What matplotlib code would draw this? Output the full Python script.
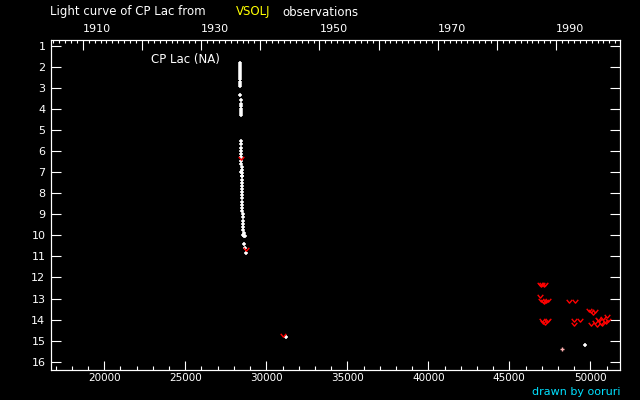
import matplotlib
matplotlib.use("Agg")
from matplotlib import pyplot as plt
from matplotlib.path import Path
from matplotlib.ticker import MultipleLocator, FixedLocator, FixedFormatter

# JD - 2400000 and visual magnitudes
main_jd = [28390, 28391, 28392, 28393, 28394, 28395, 28396, 28397, 28398, 28399,
           28400, 28401, 28405, 28408, 28410, 28412, 28414, 28416, 28418, 28420,
           28440, 28445, 28455, 28458, 28460, 28462, 28465, 28468, 28470, 28475,
           28478, 28480, 28485, 28488, 28490, 28495, 28500, 28505, 28510, 28515,
           28520, 28525, 28530, 28540, 28550, 28560, 28570, 28580, 28590, 28605,
           28620, 28640, 28700, 28760, 28440, 28520, 28560, 28660, 31198, 49692]
main_mag = [1.8, 1.9, 2.0, 2.1, 2.2, 2.3, 2.4, 2.5, 2.6, 2.7,
            2.8, 2.9, 3.35, 3.6, 3.75, 3.85, 4.0, 4.1, 4.2, 4.3,
            5.5, 5.65, 5.85, 6.0, 6.15, 6.3, 6.45, 6.6, 6.75, 6.9,
            7.05, 7.2, 7.35, 7.5, 7.65, 7.8, 7.95, 8.1, 8.25, 8.4,
            8.55, 8.7, 8.85, 9.0, 9.15, 9.3, 9.45, 9.6, 9.75, 9.9,
            10.05, 10.4, 10.6, 10.85, 7.0, 7.2, 10.0, 10.05, 14.84, 15.22]

# fainter-than observations
faint_jd = [28450, 28720, 31012,
            46880, 46960, 47040, 47120, 47200, 46895,
            46960, 47060, 47160, 47260, 47370, 48667, 49075,
            49920, 50050, 50180, 50290,
            46990, 47100, 47200, 47300, 47370, 48994, 49365, 48994, 50043,
            50300, 50420, 50540, 50660, 50780, 50900, 51000, 51090, 50480, 50720, 50950]
faint_mag = [6.35, 10.65, 14.72,
             12.3, 12.35, 12.3, 12.35, 12.3, 12.9,
             13.05, 13.1, 13.15, 13.1, 13.05, 13.13, 13.13,
             13.55, 13.6, 13.7, 13.6,
             14.0, 14.1, 14.15, 14.05, 14.0, 14.0, 14.0, 14.2, 14.2,
             14.1, 14.25, 14.0, 14.15, 13.9, 14.05, 13.85, 14.0, 13.95, 14.2, 14.1]

pink_jd = [48272]
pink_mag = [15.41]

mag_ticks = list(range(1, 17))
jd_ticks = [20000, 25000, 30000, 35000, 40000, 45000, 50000]
year_ticks = [1910, 1920, 1930, 1940, 1950, 1960, 1970, 1980, 1990]
year_labels = ["1910", "", "1930", "", "1950", "", "1970", "", "1990"]

xmin, xmax = 16710, 51833


def jd2year(jd):
    return 2000 + (jd - 51544.5) / 365.25


fig = plt.figure(figsize=(6.4, 4.0), dpi=100, facecolor="black")
ax = fig.add_axes([51 / 640, 30 / 400, 569 / 640, 330 / 400], facecolor="black")

vmark = Path([(-1, 0.6), (0, -0.6), (1, 0.6)], [Path.MOVETO, Path.LINETO, Path.LINETO])

ax.plot(main_jd, main_mag, linestyle="none", marker="+", ms=3.5, mew=1.1, color="white")
ax.plot(faint_jd, faint_mag, linestyle="none", marker=vmark, ms=4, mew=1,
        mfc="none", color="red")
ax.plot(pink_jd, pink_mag, linestyle="none", marker="+", ms=3, mew=1, color="#ffb0b0")

ax.set_xlim(xmin, xmax)
ax.set_ylim(16.39, 0.73)

ax.xaxis.set_major_locator(FixedLocator(jd_ticks))
ax.xaxis.set_minor_locator(MultipleLocator(1000))
ax.yaxis.set_major_locator(FixedLocator(mag_ticks))
ax.tick_params(axis="x", which="major", direction="in", length=6.5, width=0.8,
               colors="white", labelsize=7.5, pad=2.5)
ax.tick_params(axis="x", which="minor", direction="in", length=3, width=0.8, colors="white")
ax.tick_params(axis="y", which="major", direction="in", length=7, width=0.8,
               colors="white", labelsize=8, pad=4, right=True)
for s in ax.spines.values():
    s.set_color("white")
    s.set_linewidth(0.8)

# top axis in years
top = ax.twiny()
top.set_xlim(jd2year(xmin), jd2year(xmax))
top.xaxis.set_major_locator(FixedLocator(year_ticks))
top.xaxis.set_major_formatter(FixedFormatter(year_labels))
top.xaxis.set_minor_locator(MultipleLocator(1))
top.tick_params(axis="x", which="major", direction="in", length=7, width=0.8,
                colors="white", labelsize=8, pad=4)
top.tick_params(axis="x", which="minor", direction="in", length=2, width=0.8, colors="white")
for lab in top.get_xticklabels():
    lab.set_horizontalalignment("left")
for s in top.spines.values():
    s.set_color("white")
    s.set_linewidth(0.8)

fig.text(50 / 640, 1 - 12 / 400, "Light curve of CP Lac from", color="white",
         fontsize=8.5, va="center", ha="left")
fig.text(236 / 640, 1 - 12 / 400, "VSOLJ", color="#ffff00", fontsize=8.5,
         va="center", ha="left")
fig.text(282 / 640, 1 - 12 / 400, "observations", color="white", fontsize=8.5,
         va="center", ha="left")
fig.text(151 / 640, 1 - 60 / 400, "CP Lac (NA)", color="white", fontsize=8.5,
         va="center", ha="left")
fig.text(620 / 640, 1 - 392 / 400, "drawn by ooruri", color="#00e0ff", fontsize=8,
         va="center", ha="right")

plt.savefig("out.png", dpi=100, facecolor="black")
